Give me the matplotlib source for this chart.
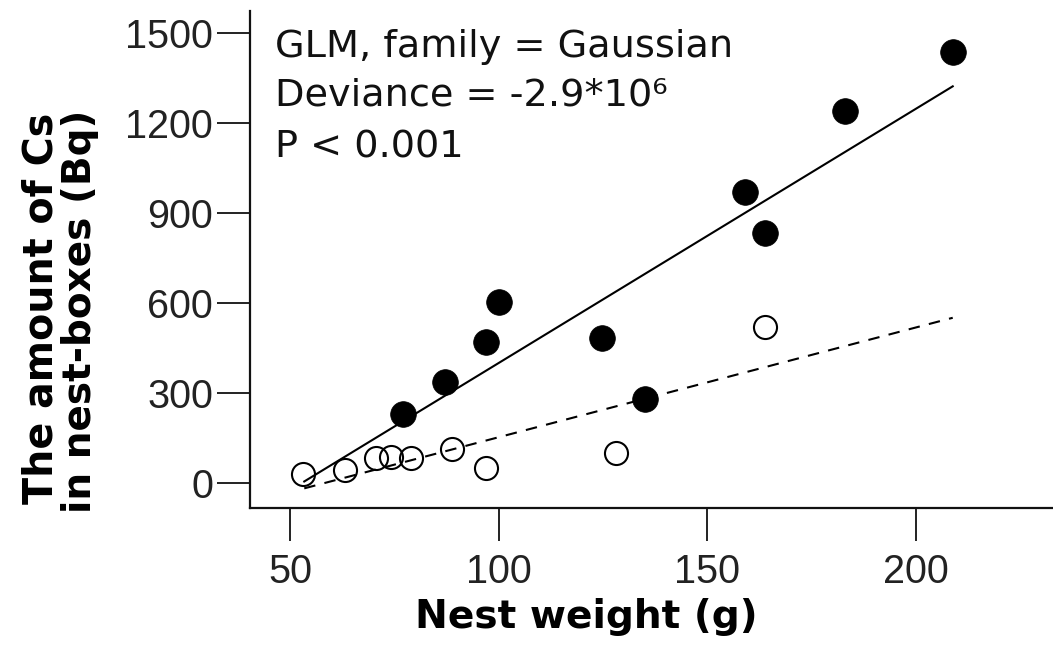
import matplotlib
matplotlib.use("Agg")
import matplotlib.pyplot as plt

# ---- data ----
filled_x = [77.1, 87.1, 97.0, 100.1, 124.8, 135.1, 159.0, 163.8, 183.0, 208.9]
filled_y = [230, 337, 471, 605, 484, 281, 969, 835, 1240, 1437]

open_x = [53.1, 63.2, 70.6, 74.2, 79.0, 88.8, 97.0, 128.1, 163.8]
open_y = [30, 43, 84, 87, 84, 114, 50, 100, 521]

fit_x = [53.4, 208.8]
solid_fit_y = [5, 1323]
dashed_fit_y = [-18, 551]

x_ticks = [50, 100, 150, 200]
y_ticks = [0, 300, 600, 900, 1200, 1500]

annot_lines = ["GLM, family = Gaussian", "Deviance = -2.9*10\u2076", "P < 0.001"]
x_label = "Nest weight (g)"
y_label_1 = "The amount of Cs"
y_label_2 = "in nest-boxes (Bq)"

# ---- figure ----
W, H = 1053, 657
fig = plt.figure(figsize=(W / 100, H / 100), dpi=100)

x_lo, x_hi = 40.4, 240.0
y_lo, y_hi = -82.5, 1574
px_per_x = 4.173
px_per_y = 0.2998
left_px, bottom_px = 250, 507.7
ax_w = (x_hi - x_lo) * px_per_x
ax_h = (y_hi - y_lo) * px_per_y
ax = fig.add_axes([left_px / W, (H - bottom_px) / H, ax_w / W, ax_h / H])
ax.set_xlim(x_lo, x_hi)
ax.set_ylim(y_lo, y_hi)

for s in ["top", "right"]:
    ax.spines[s].set_visible(False)
for s in ["left", "bottom"]:
    ax.spines[s].set_linewidth(1.6)
    ax.spines[s].set_color("#111111")

ax.set_xticks(x_ticks)
ax.set_yticks(y_ticks)
ax.tick_params(axis="both", direction="out", length=23.5, width=1.4,
               labelsize=28.5, color="#222222")
ax.tick_params(axis="y", pad=3)
ax.tick_params(axis="x", pad=9)
for lab in ax.get_xticklabels() + ax.get_yticklabels():
    lab.set_family("Liberation Sans")
    lab.set_color("#222222")

ax.plot(fit_x, solid_fit_y, color="black", lw=1.5, zorder=2)
ax.plot(fit_x, dashed_fit_y, color="black", lw=1.5, dashes=(5.5, 4.5), zorder=2)

ax.plot(filled_x, filled_y, "o", ms=18.5, mfc="black", mec="black", mew=0.5,
        linestyle="none", zorder=3)
ax.plot(open_x, open_y, "o", ms=16.6, mfc="none", mec="black", mew=1.5,
        linestyle="none", zorder=3)

fam = ["DejaVu Sans"]
renderer = fig.canvas.get_renderer()


def fit_width(t, target_px, horizontal=True):
    bb = t.get_window_extent(renderer=renderer)
    w = bb.width if horizontal else bb.height
    t.set_fontsize(t.get_fontsize() * target_px / w)
    return t


# annotation text
ann_x = 275 / W
ann = []
for txt, base in zip(annot_lines, [57, 106, 157]):
    ann.append(fig.text(ann_x, (H - base) / H, txt, fontsize=24, family=fam,
                        ha="left", va="baseline", color="#111111"))
bb = ann[0].get_window_extent(renderer=renderer)
scale = 458 / bb.width
for t in ann:
    t.set_fontsize(24 * scale)

# axis labels
xl = fig.text(586 / W, (H - 628) / H, x_label, fontsize=28, fontweight="bold",
              family=fam, ha="center", va="baseline")
fit_width(xl, 343)
yl1 = fig.text(53 / W, (H - 308) / H, y_label_1, fontsize=28, fontweight="bold",
               family=fam, ha="center", va="baseline",
               rotation=90, rotation_mode="anchor")
fit_width(yl1, 391, horizontal=False)
yl2 = fig.text(91 / W, (H - 311) / H, y_label_2, fontsize=28, fontweight="bold",
               family=fam, ha="center", va="baseline",
               rotation=90, rotation_mode="anchor")
fit_width(yl2, 403, horizontal=False)

fig.savefig("out.png", dpi=100)
